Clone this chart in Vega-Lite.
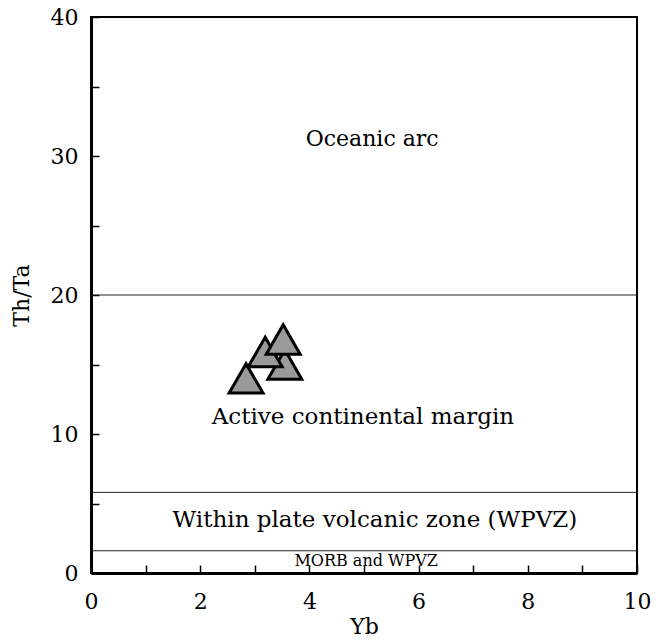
{
  "$schema": "https://vega.github.io/schema/vega-lite/v6.json",
  "width": 546,
  "height": 556,
  "autosize": "none",
  "padding": {"left": 91, "top": 17, "right": 19, "bottom": 71},
  "background": "white",
  "config": {
    "view": {"stroke": "black", "strokeWidth": 2},
    "font": "DejaVu Serif",
    "axis": {
      "grid": false,
      "domainColor": "black",
      "domainWidth": 3,
      "tickColor": "black",
      "tickWidth": 1.5,
      "tickSize": -8,
      "labelFlush": false,
      "labelOverlap": false,
      "labelColor": "black",
      "labelFontSize": 22,
      "labelFont": "DejaVu Serif",
      "titleFont": "DejaVu Serif",
      "titleFontSize": 22,
      "titleFontWeight": "normal",
      "titleColor": "black"
    }
  },
  "layer": [
    {
      "data": {"values": [{"y": 20}, {"y": 5.8}, {"y": 1.6}]},
      "mark": {"type": "rule", "stroke": "#222", "strokeWidth": 1},
      "encoding": {
        "y": {"field": "y", "type": "quantitative", "scale": {"domain": [0, 40], "nice": false}}
      }
    },
    {
      "data": {"values": [
        {"Yb": 2.84, "ThTa": 14.0},
        {"Yb": 3.55, "ThTa": 15.0},
        {"Yb": 3.19, "ThTa": 15.9},
        {"Yb": 3.52, "ThTa": 16.8}
      ]},
      "mark": {"type": "point", "shape": "triangle-up", "filled": true, "fill": "#9a9a9a", "fillOpacity": 1, "stroke": "black", "strokeWidth": 3, "size": 1150, "opacity": 1},
      "encoding": {
        "x": {"field": "Yb", "type": "quantitative", "scale": {"domain": [0, 10], "nice": false},
          "axis": {"title": "Yb", "values": [0,1,2,3,4,5,6,7,8,9,10], "labelExpr": "datum.value % 2 === 0 ? datum.label : ''", "labelPadding": 26, "titlePadding": 4}},
        "y": {"field": "ThTa", "type": "quantitative", "scale": {"domain": [0, 40], "nice": false},
          "axis": {"title": "Th/Ta", "values": [0,5,10,15,20,25,30,35,40], "labelExpr": "datum.value % 10 === 0 ? datum.label : ''", "labelPadding": 21, "titlePadding": 17}}
      }
    },
    {
      "data": {"values": [
        {"x": 5.15, "y": 31.2, "label": "Oceanic arc", "fs": 22, "font": "DejaVu Serif"},
        {"x": 4.98, "y": 11.2, "label": "Active continental margin", "fs": 23, "font": "DejaVu Serif"},
        {"x": 5.2, "y": 3.8, "label": "Within plate volcanic zone (WPVZ)", "fs": 23, "font": "DejaVu Serif"},
        {"x": 5.04, "y": 0.86, "label": "MORB and WPVZ", "fs": 16, "font": "Liberation Serif"}
      ]},
      "mark": {"type": "text", "align": "center", "baseline": "middle", "color": "black"},
      "encoding": {
        "x": {"field": "x", "type": "quantitative"},
        "y": {"field": "y", "type": "quantitative"},
        "text": {"field": "label"},
        "size": {"field": "fs", "type": "quantitative", "scale": null},
        "font": {"field": "font", "type": "nominal", "scale": null}
      }
    }
  ]
}
